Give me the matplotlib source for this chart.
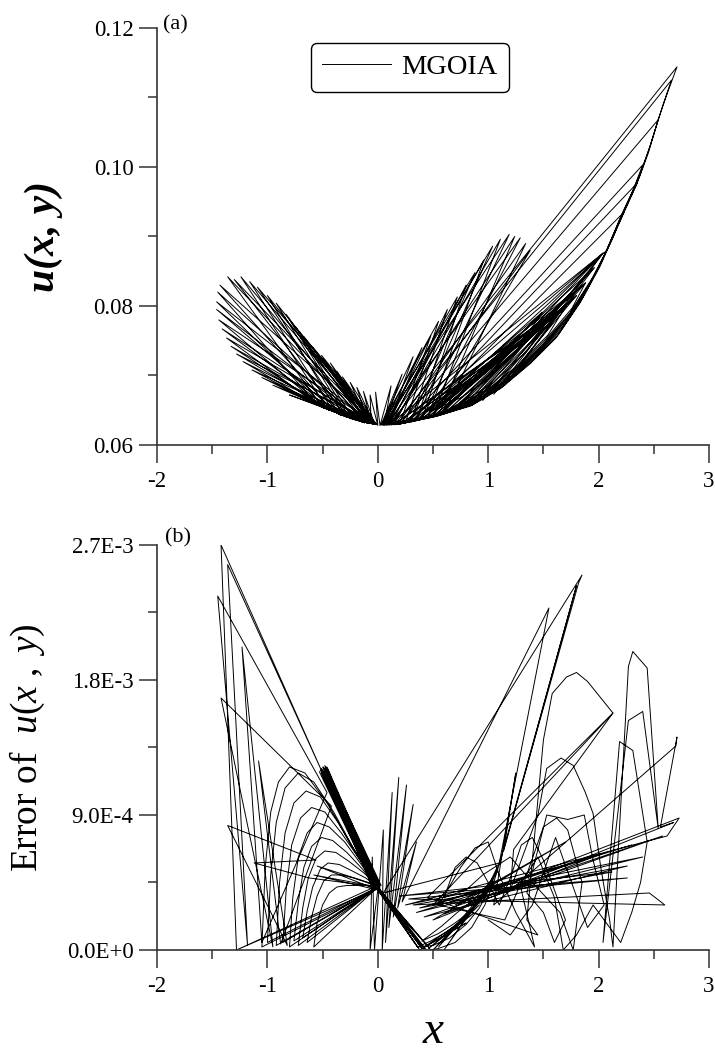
import matplotlib
matplotlib.use('Agg')
import matplotlib.pyplot as plt
from matplotlib.ticker import FixedLocator, MultipleLocator

# ---- panel (a): u(x, y), one polyline in pieces ----
top_left_fan = [
    (-0.02, 0.0630), (-0.40, 0.0648), (-0.80, 0.0672), (-0.08, 0.0631), (-0.45, 0.0651),
    (-0.95, 0.0686), (-0.04, 0.0630), (-0.55, 0.0658), (-1.05, 0.0697), (-0.12, 0.0632),
    (-0.50, 0.0654), (-1.14, 0.0708), (-0.06, 0.0631), (-0.60, 0.0662), (-1.22, 0.0720),
    (-0.15, 0.0634), (-0.35, 0.0644), (-1.28, 0.0731), (-0.01, 0.0630), (-0.45, 0.0651),
    (-1.33, 0.0742), (-0.10, 0.0632), (-0.55, 0.0658), (-1.37, 0.0754), (-0.03, 0.0630),
    (-0.40, 0.0648), (-1.41, 0.0767), (-0.08, 0.0631), (-0.50, 0.0654), (-1.44, 0.0780),
    (-0.02, 0.0630), (-0.35, 0.0644), (-1.46, 0.0795), (-0.12, 0.0632), (-0.45, 0.0651),
    (-1.46, 0.0806), (-0.05, 0.0631), (-0.55, 0.0658), (-1.45, 0.0820), (-0.15, 0.0634),
    (-0.40, 0.0648), (-1.43, 0.0830), (-0.02, 0.0630), (-0.50, 0.0654), (-1.36, 0.0842),
    (-0.10, 0.0632), (-0.35, 0.0644), (-1.30, 0.0838), (-0.04, 0.0630), (-0.45, 0.0651),
    (-1.24, 0.0842), (-0.13, 0.0633), (-0.40, 0.0648), (-1.16, 0.0835), (-0.06, 0.0631),
    (-0.30, 0.0641), (-1.09, 0.0827), (-0.02, 0.0630), (-0.35, 0.0644), (-1.00, 0.0815),
    (-0.09, 0.0632), (-0.28, 0.0640), (-0.92, 0.0804), (-0.04, 0.0630), (-0.25, 0.0638),
    (-0.83, 0.0788), (-0.12, 0.0632), (-0.22, 0.0637), (-0.75, 0.0771), (-0.03, 0.0630),
    (-0.67, 0.0756), (-0.08, 0.0631), (-0.59, 0.0741), (-0.01, 0.0630), (-0.51, 0.0729),
    (-0.10, 0.0632), (-0.43, 0.0718), (-0.04, 0.0630), (-0.37, 0.0706), (-0.07, 0.0631),
    (-0.32, 0.0698), (-0.02, 0.0630), (-0.25, 0.0690), (-0.09, 0.0632), (-0.19, 0.0683),
    (-0.03, 0.0630), (-0.13, 0.0677), (-0.06, 0.0631), (-0.07, 0.0672), (0.00, 0.0628),
    (-0.02, 0.0676), (0.02, 0.0628),
]

top_right_fan = [
    (0.12, 0.0685), (0.06, 0.0629), (0.22, 0.0702), (0.03, 0.0629), (0.32, 0.0727),
    (0.10, 0.0629), (0.40, 0.0740), (0.05, 0.0629), (0.20, 0.0631), (0.48, 0.0757),
    (0.08, 0.0629), (0.25, 0.0632), (0.55, 0.0778), (0.03, 0.0629), (0.30, 0.0634),
    (0.63, 0.0795), (0.12, 0.0629), (0.35, 0.0636), (0.72, 0.0813), (0.06, 0.0629),
    (0.40, 0.0637), (0.80, 0.0830), (0.15, 0.0630), (0.30, 0.0634), (0.88, 0.0848),
    (0.04, 0.0629), (0.45, 0.0639), (0.96, 0.0866), (0.10, 0.0629), (0.35, 0.0636),
    (1.04, 0.0886), (0.07, 0.0629), (0.50, 0.0641), (1.11, 0.0896), (0.14, 0.0630),
    (0.40, 0.0637), (1.19, 0.0903), (0.05, 0.0629), (0.55, 0.0643), (1.24, 0.0900),
    (0.12, 0.0629), (0.45, 0.0639), (1.29, 0.0898), (0.08, 0.0629), (0.60, 0.0646),
    (1.34, 0.0890), (0.18, 0.0630), (0.50, 0.0641), (1.38, 0.0880),
]

top_lattice = [
    (0.20, 0.0630), (1.44, 0.0765), (0.30, 0.0634), (1.54, 0.0784), (0.15, 0.0630),
    (1.71, 0.0801), (0.40, 0.0637), (1.88, 0.0833), (0.25, 0.0632), (2.04, 0.0876),
    (0.55, 0.0643), (1.49, 0.0791), (0.35, 0.0636), (1.62, 0.0790), (0.65, 0.0647),
    (1.80, 0.0815), (0.45, 0.0639), (1.96, 0.0855), (0.75, 0.0652), (1.44, 0.0765),
    (0.50, 0.0641), (1.54, 0.0784), (0.85, 0.0657), (1.71, 0.0801), (0.60, 0.0645),
    (1.88, 0.0833), (0.95, 0.0664), (2.04, 0.0876), (0.70, 0.0650), (1.62, 0.0790),
    (1.05, 0.0673), (1.80, 0.0815), (0.80, 0.0655), (1.96, 0.0855), (1.15, 0.0686),
    (2.04, 0.0876), (0.10, 0.0629),
]

top_runs = [
    (2.71, 0.1144), (2.62, 0.1105), (2.54, 0.1068), (2.45, 0.1020), (2.35, 0.0977),
    (2.26, 0.0945), (2.17, 0.0914), (2.01, 0.0856), (1.83, 0.0804), (1.62, 0.0755),
    (1.38, 0.0717), (1.11, 0.0681), (0.84, 0.0656), (0.50, 0.0640), (0.15, 0.0629),
    (2.66, 0.1125), (2.58, 0.1088), (2.47, 0.1032), (2.37, 0.0986), (2.27, 0.0950),
    (2.18, 0.0919), (2.03, 0.0864), (1.85, 0.0810), (1.64, 0.0760), (1.40, 0.0721),
    (1.13, 0.0684), (0.86, 0.0658), (0.55, 0.0642), (0.20, 0.0630),
    (2.54, 0.1068), (2.46, 0.1027), (2.38, 0.0992), (2.28, 0.0955), (2.19, 0.0924),
    (2.05, 0.0872), (1.87, 0.0816), (1.66, 0.0766), (1.42, 0.0726), (1.15, 0.0688),
    (0.88, 0.0661), (0.60, 0.0645), (0.25, 0.0632),
    (2.40, 0.1003), (2.31, 0.0966), (2.21, 0.0932), (2.07, 0.0879), (1.89, 0.0822),
    (1.68, 0.0772), (1.44, 0.0731), (1.17, 0.0692), (0.90, 0.0664), (0.65, 0.0648),
    (0.30, 0.0633),
    (2.35, 0.0977), (2.24, 0.0940), (2.10, 0.0888), (1.91, 0.0829), (1.70, 0.0778),
    (1.46, 0.0736), (1.19, 0.0696), (0.92, 0.0667), (0.70, 0.0651), (0.35, 0.0635),
    (2.23, 0.0935), (2.12, 0.0895), (1.93, 0.0835), (1.72, 0.0784), (1.48, 0.0741),
    (1.21, 0.0700), (0.95, 0.0670), (0.72, 0.0653), (0.40, 0.0637),
    (2.08, 0.0881), (1.95, 0.0842), (1.74, 0.0790), (1.50, 0.0746), (1.23, 0.0705),
    (0.97, 0.0674), (0.75, 0.0656), (0.45, 0.0639),
    (1.88, 0.0833), (1.76, 0.0797), (1.52, 0.0752), (1.25, 0.0710), (0.99, 0.0678),
    (0.77, 0.0659), (0.50, 0.0641),
    (1.72, 0.0804), (1.54, 0.0758), (1.27, 0.0715), (1.01, 0.0682), (0.79, 0.0662),
    (0.55, 0.0644),
    (1.59, 0.0790), (1.35, 0.0735), (1.05, 0.0690), (0.82, 0.0667), (0.60, 0.0648),
    (1.49, 0.0791), (1.25, 0.0735), (1.00, 0.0695), (0.75, 0.0668), (0.50, 0.0650),
]

# ---- panel (b): error of u(x, y), values in units of 1E-3 ----
err_left = [
    (-1.28, 0.00), (-1.42, 2.70), (-0.50, 1.18), (-1.36, 2.57), (-1.18, 0.03),
    (-1.45, 2.36), (-0.46, 1.05), (-1.05, 0.05), (-1.23, 2.02), (-0.95, 0.02),
    (-1.42, 1.68), (-0.42, 0.96), (-0.88, 0.04), (-1.08, 1.26), (-0.82, 0.03),
    (-1.36, 0.83), (-0.56, 0.60), (-1.12, 0.58), (-0.62, 0.48), (0.00, 0.42),
    (-0.58, 0.50), (0.00, 0.40), (-0.55, 0.56), (0.00, 0.43), (-1.28, 0.00),
    (0.00, 0.41),
]

err_arcs = [
    (-1.05, 0.02), (-1.02, 0.55), (-0.97, 0.92), (-0.90, 1.12), (-0.80, 1.22),
    (-0.66, 1.18), (-0.46, 0.98), (-0.24, 0.70), (0.00, 0.42),
    (-1.00, 0.05), (-0.97, 0.50), (-0.92, 0.85), (-0.84, 1.08), (-0.72, 1.18),
    (-0.58, 1.12), (-0.40, 0.92), (-0.20, 0.65), (0.00, 0.42),
    (-0.92, 0.03), (-0.89, 0.45), (-0.84, 0.78), (-0.76, 0.98), (-0.65, 1.06),
    (-0.52, 1.02), (-0.36, 0.85), (-0.18, 0.62), (0.00, 0.42),
    (-0.86, 0.05), (-0.83, 0.40), (-0.78, 0.70), (-0.70, 0.88), (-0.60, 0.95),
    (-0.48, 0.92), (-0.33, 0.78), (-0.16, 0.60), (0.00, 0.42),
    (-0.80, 0.02), (-0.77, 0.35), (-0.72, 0.62), (-0.64, 0.78), (-0.55, 0.85),
    (-0.44, 0.82), (-0.30, 0.72), (-0.15, 0.57), (0.00, 0.42),
    (-0.76, 0.06), (-0.72, 0.32), (-0.67, 0.55), (-0.60, 0.69), (-0.51, 0.75),
    (-0.41, 0.73), (-0.28, 0.65), (-0.14, 0.54), (0.00, 0.42),
    (-0.72, 0.03), (-0.68, 0.28), (-0.63, 0.48), (-0.56, 0.61), (-0.48, 0.66),
    (-0.38, 0.65), (-0.26, 0.59), (-0.12, 0.51), (0.00, 0.42),
    (-0.68, 0.08), (-0.64, 0.26), (-0.59, 0.42), (-0.52, 0.54), (-0.45, 0.58),
    (-0.35, 0.57), (-0.24, 0.53), (-0.11, 0.48), (0.00, 0.42),
    (-0.64, 0.05), (-0.60, 0.22), (-0.55, 0.36), (-0.49, 0.46), (-0.42, 0.50),
    (-0.33, 0.50), (-0.22, 0.48), (-0.10, 0.45), (0.00, 0.42),
    (-0.58, 0.02), (-0.55, 0.18), (-0.50, 0.30), (-0.44, 0.38), (-0.37, 0.42),
    (-0.28, 0.43), (-0.18, 0.43), (-0.08, 0.43), (0.00, 0.42),
]

# dense black wedge between (-0.5, 1.2E-3) and the centre
err_mass = [
    (-0.52, 1.20), (-0.03, 0.41), (-0.51, 1.21), (-0.01, 0.42), (-0.50, 1.22),
    (0.01, 0.42), (-0.49, 1.22), (0.03, 0.43), (-0.48, 1.23), (0.02, 0.43),
    (-0.47, 1.22), (0.00, 0.42), (-0.46, 1.21), (-0.02, 0.41), (-0.47, 1.20),
    (-0.04, 0.40), (-0.49, 1.19), (-0.02, 0.42), (-0.51, 1.19), (0.00, 0.41),
    (-0.50, 1.20), (0.02, 0.42), (-0.48, 1.21), (0.01, 0.43), (-0.46, 1.22),
    (-0.01, 0.41), (-0.45, 1.20), (-0.03, 0.42), (-0.47, 1.18), (0.00, 0.43),
    (-0.49, 1.17), (0.02, 0.41), (-0.51, 1.18), (-0.02, 0.40), (-0.53, 1.19),
    (0.01, 0.41), (-0.50, 1.18), (-0.01, 0.43), (-0.48, 1.16), (0.00, 0.42),
]

err_vband = [
    (0.40, 0.01), (0.02, 0.39), (0.36, 0.02), (-0.02, 0.44), (0.44, 0.00),
    (0.03, 0.37), (0.38, 0.03), (0.01, 0.41), (0.46, 0.02), (0.05, 0.35),
    (0.42, 0.01), (0.00, 0.40), (0.34, 0.04), (0.04, 0.38), (0.48, 0.00),
]

err_bowl = [
    (0.55, 0.01), (0.70, 0.05), (0.85, 0.15), (0.97, 0.30), (1.05, 0.45), (1.12, 0.62),
    (1.02, 0.42), (0.92, 0.28), (0.80, 0.17), (0.65, 0.08), (0.50, 0.03), (0.36, 0.02),
    (0.48, 0.06), (0.62, 0.12), (0.76, 0.20), (0.90, 0.30), (1.00, 0.40), (1.08, 0.55),
    (0.96, 0.36), (0.84, 0.26), (0.70, 0.18), (0.55, 0.11), (0.40, 0.06),
    (0.58, 0.16), (0.72, 0.25), (0.86, 0.33), (0.98, 0.42), (1.08, 0.52),
    (0.60, 0.00), (1.04, 0.46), (0.55, 0.02), (0.98, 0.38), (0.50, 0.00), (0.92, 0.30),
    (0.46, 0.01), (0.86, 0.24), (0.42, 0.02), (0.80, 0.18), (0.38, 0.00),
]

err_spikes = [
    (0.00, 0.40), (-0.07, 0.00), (-0.05, 0.62), (-0.03, 0.00), (0.05, 0.80),
    (0.04, 0.00), (0.13, 1.05), (0.07, 0.05), (0.19, 1.15), (0.10, 0.15),
    (0.26, 1.10), (0.14, 0.22), (0.32, 0.97), (0.18, 0.28), (0.35, 0.72), (0.22, 0.32),
]

err_right = [
    (1.55, 2.28), (1.10, 0.58), (0.05, 0.38), (1.85, 2.50), (1.82, 2.45),
    (1.12, 0.62), (1.80, 2.43), (1.14, 0.66), (1.25, 1.18), (1.05, 0.30),
    (2.70, 1.36), (2.71, 1.42), (2.56, 0.82), (2.68, 0.85), (0.60, 0.24),
    (2.58, 0.76), (0.42, 0.22), (2.26, 0.56), (0.32, 0.30), (2.46, 0.38),
    (2.60, 0.30), (0.28, 0.34), (2.26, 0.48), (0.20, 0.36), (2.12, 0.52),
    (0.38, 0.28), (2.02, 0.64), (0.50, 0.20), (1.70, 0.72), (0.70, 0.30),
    (2.73, 0.88), (2.62, 0.76), (0.25, 0.30), (2.40, 0.62), (0.35, 0.25),
    (2.30, 0.70), (0.50, 0.30), (2.13, 1.58), (0.45, 0.35), (1.45, 0.10),
]

err_humps = [
    (1.35, 0.20), (1.50, 1.40), (1.58, 1.71), (1.71, 1.82), (1.80, 1.85),
    (1.90, 1.79), (2.01, 1.69), (2.13, 1.58), (1.23, 0.67),
    (1.20, 0.40), (1.45, 0.90), (1.53, 1.21), (1.66, 1.28), (1.77, 1.23),
    (1.88, 1.05), (1.95, 0.91), (2.02, 0.55), (2.10, 0.20), (2.13, 0.02),
    (2.27, 1.89), (2.31, 1.99), (2.44, 1.88), (2.54, 0.81), (2.40, 1.59),
    (2.27, 1.53), (2.04, 0.05), (2.19, 1.39), (2.31, 1.33), (2.44, 0.72),
    (2.38, 0.45), (2.30, 0.25), (2.20, 0.05), (1.95, 0.30), (1.80, 0.10),
    (1.68, 0.00), (1.60, 0.35), (1.45, 0.62), (1.30, 0.45), (1.15, 0.20),
]

err_tents = [
    (0.55, 0.30), (0.75, 0.55), (0.88, 0.68), (1.00, 0.72), (1.10, 0.50),
    (1.25, 0.25), (1.42, 0.02), (1.30, 0.40), (1.50, 0.82), (1.62, 0.88),
    (1.72, 0.80), (1.85, 0.45), (1.77, 0.00), (1.65, 0.25), (1.40, 0.45),
    (1.20, 0.62), (0.95, 0.50), (0.80, 0.40), (0.60, 0.35), (0.70, 0.55),
    (0.80, 0.62), (0.90, 0.58), (1.00, 0.45), (1.10, 0.30), (1.20, 0.48),
    (1.30, 0.70), (1.40, 0.75), (1.50, 0.60), (1.60, 0.40), (1.70, 0.20),
    (1.60, 0.05), (1.50, 0.25), (1.35, 0.38), (1.53, 0.90), (1.72, 0.87),
    (1.87, 0.90), (1.95, 0.60), (2.05, 0.30), (1.90, 0.15), (1.61, 0.75),
    (1.40, 0.30), (1.20, 0.10), (1.00, 0.20),
]

u_ticks = [0.06, 0.08, 0.10, 0.12]
u_labels = ['0.06', '0.08', '0.10', '0.12']
err_ticks = [0.0, 0.9, 1.8, 2.7]
err_labels = ['0.0E+0', '9.0E-4', '1.8E-3', '2.7E-3']

plt.rcParams['font.family'] = 'Liberation Serif'
plt.rcParams['mathtext.fontset'] = 'custom'
plt.rcParams['mathtext.rm'] = 'Liberation Serif'
plt.rcParams['mathtext.it'] = 'Liberation Serif:italic'
plt.rcParams['axes.unicode_minus'] = False

fig = plt.figure(figsize=(7.15, 10.56), dpi=100)
ax1 = fig.add_axes([0.2196, 0.5786, 0.772, 0.3949])
ax2 = fig.add_axes([0.2196, 0.1004, 0.772, 0.3835])

top_pts = top_left_fan + top_right_fan + top_lattice + top_runs
ax1.plot([p[0] for p in top_pts], [p[1] for p in top_pts], color='black', lw=0.7, label='MGOIA')

err_pts = (err_left + err_arcs + err_mass + err_vband + err_bowl + err_spikes
           + err_right + err_humps + err_tents)
ax2.plot([p[0] for p in err_pts], [p[1] for p in err_pts], color='black', lw=0.7)

for ax in (ax1, ax2):
    ax.spines['top'].set_visible(False)
    ax.spines['right'].set_visible(False)
    for s in ('left', 'bottom'):
        ax.spines[s].set_color('#333333')
        ax.spines[s].set_linewidth(1.2)
    ax.set_xlim(-2, 3)
    ax.xaxis.set_major_locator(MultipleLocator(1))
    ax.xaxis.set_minor_locator(MultipleLocator(0.5))
    ax.tick_params(which='major', direction='out', length=13, width=1.1, color='#333333',
                   labelsize=16.5, pad=6)
    ax.tick_params(which='minor', direction='out', length=6.5, width=1.1, color='#333333')
    ax.tick_params(axis='y', which='major', pad=4)

ax1.set_ylim(0.06, 0.12)
ax1.yaxis.set_major_locator(FixedLocator(u_ticks))
ax1.set_yticklabels(u_labels)
ax1.yaxis.set_minor_locator(FixedLocator([0.07, 0.09, 0.11]))
ax1.set_ylabel('u(x, y)', fontsize=30, fontstyle='italic', fontweight='bold')
ax1.yaxis.set_label_coords(-0.17, 0.5)
ax1.text(0.011, 1.031, '(a)', transform=ax1.transAxes, fontsize=16, va='top')
ax1.legend(loc='center', bbox_to_anchor=(0.458, 0.906), fancybox=True, edgecolor='black',
           framealpha=1, handlelength=2.4, handletextpad=0.35, fontsize=20.5,
           borderpad=0.4, borderaxespad=0)

ax2.set_ylim(0, 2.7)
ax2.yaxis.set_major_locator(FixedLocator(err_ticks))
ax2.set_yticklabels(err_labels)
ax2.yaxis.set_minor_locator(FixedLocator([0.45, 1.35, 2.25]))
ax2.set_ylabel(r'Error of  $u(x\ ,\ y)$', fontsize=27)
ax2.yaxis.set_label_coords(-0.20, 0.5)
ax2.set_xlabel('x', fontsize=34, fontstyle='italic')
ax2.xaxis.set_label_coords(0.5, -0.15)
ax2.text(0.015, 1.042, '(b)', transform=ax2.transAxes, fontsize=16, va='top')

fig.savefig('out.png', dpi=100)
